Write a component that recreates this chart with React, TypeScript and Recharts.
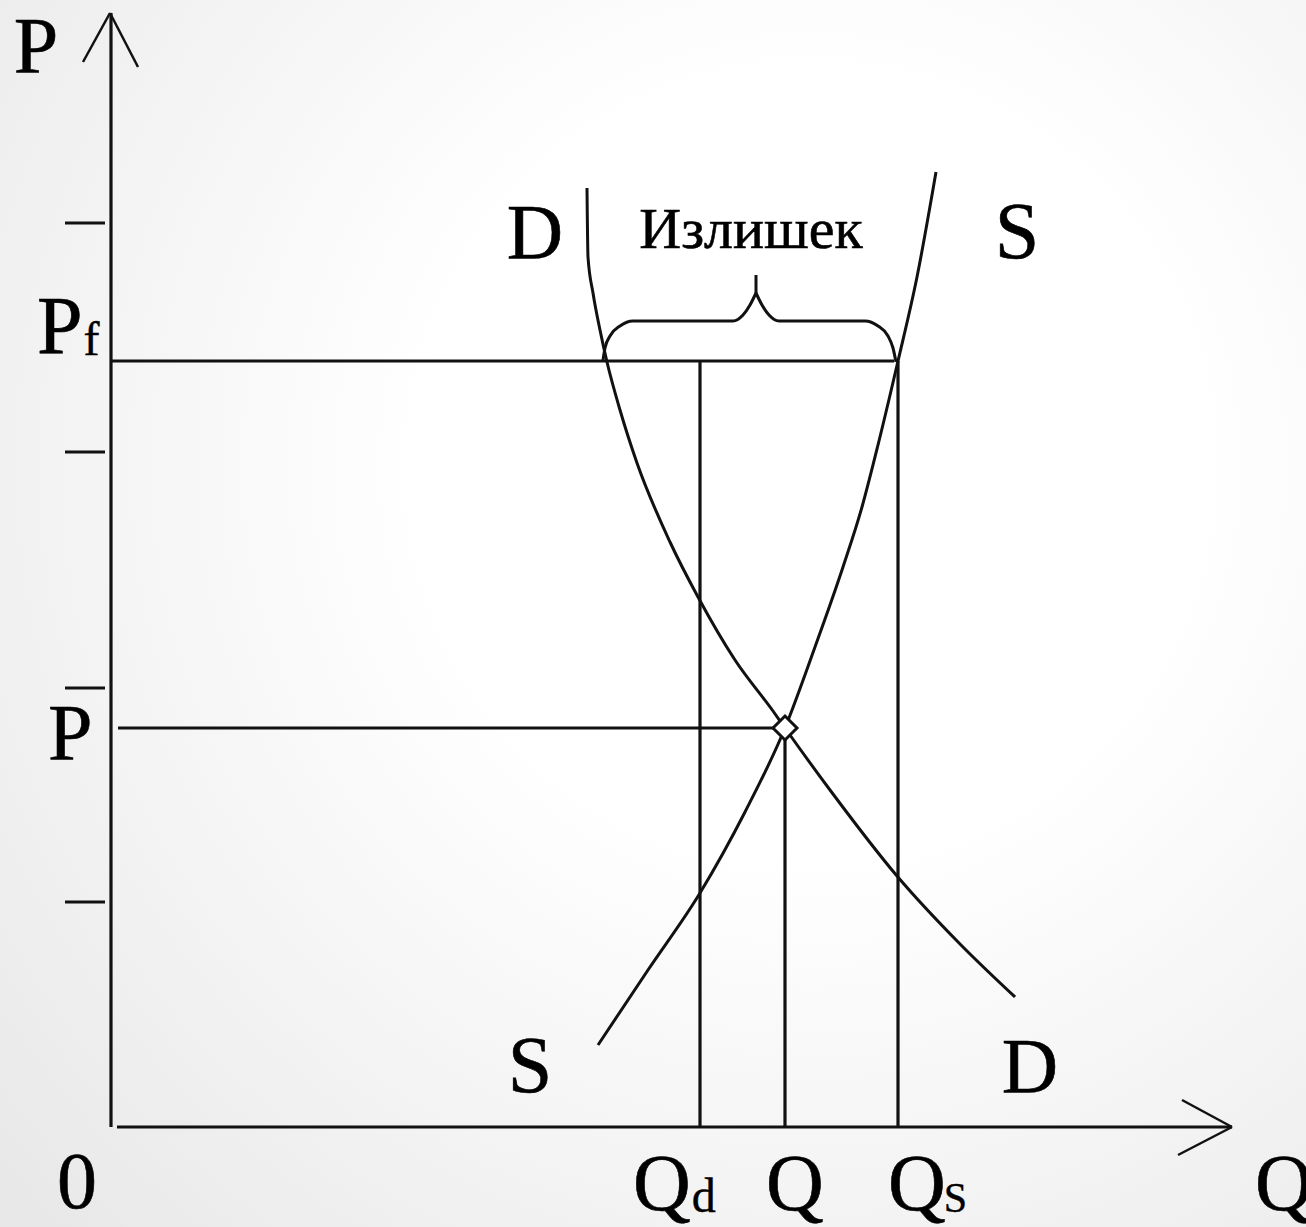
import { ComposedChart, XAxis, YAxis, Line, Scatter, ReferenceLine } from "recharts";

// coordinates: q = quantity, p = price, both measured from the origin of the diagram
const demandCurve = [
  { q: 475, p: 939 }, { q: 476, p: 870 }, { q: 481, p: 834 }, { q: 488, p: 797 },
  { q: 495, p: 765 }, { q: 508, p: 717 }, { q: 525, p: 664 }, { q: 558, p: 585 },
  { q: 586, p: 530 }, { q: 623, p: 467 }, { q: 661, p: 416 }, { q: 673, p: 399 },
  { q: 718, p: 337 }, { q: 785, p: 251 }, { q: 848, p: 183 }, { q: 903, p: 130 },
];

const supplyCurve = [
  { q: 486, p: 82 }, { q: 536, p: 157 }, { q: 588, p: 234 }, { q: 633, p: 315 },
  { q: 673, p: 399 }, { q: 703, p: 480 }, { q: 731, p: 560 }, { q: 750, p: 620 },
  { q: 766, p: 682 }, { q: 786, p: 766 }, { q: 805, p: 850 }, { q: 824, p: 955 },
];

const braceLeft = [
  { q: 491, p: 767 }, { q: 493, p: 779 }, { q: 498, p: 791 }, { q: 508, p: 801 },
  { q: 521, p: 806 }, { q: 621, p: 806 }, { q: 631, p: 812 }, { q: 638, p: 822 },
  { q: 644, p: 834 },
];
const braceRight = [
  { q: 644, p: 834 }, { q: 650, p: 822 }, { q: 657, p: 812 }, { q: 667, p: 806 },
  { q: 753, p: 806 }, { q: 766, p: 801 }, { q: 776, p: 791 }, { q: 781, p: 779 },
  { q: 784, p: 765 },
];
const braceStem = [{ q: 644, p: 834 }, { q: 644, p: 852 }];

const priceFloor = 766;
const priceEq = 399;
const qDemanded = 588;
const qEq = 673;
const qSupplied = 786;
const priceTicks = [904, 675, 439, 225];
const equilibrium = [{ q: qEq, p: priceEq }];

const labels = [
  { q: -76, p: 1054, text: "P", anchor: "middle", size: 80 },
  { q: -75, p: 774, text: "P", sub: "f", anchor: "start", size: 82 },
  { q: -64, p: 367, text: "P", anchor: "start", size: 80 },
  { q: 423, p: 869, text: "D", anchor: "middle", size: 78 },
  { q: 639, p: 879, text: "Излишек", anchor: "middle", size: 58 },
  { q: 905, p: 869, text: "S", anchor: "middle", size: 80 },
  { q: 418, p: 35, text: "S", anchor: "middle", size: 80 },
  { q: 918, p: 35, text: "D", anchor: "middle", size: 78 },
  { q: -35, p: -81, text: "0", anchor: "middle", size: 80 },
  { q: 521, p: -83, text: "Q", sub: "d", anchor: "start", size: 80 },
  { q: 683, p: -83, text: "Q", anchor: "middle", size: 80 },
  { q: 776, p: -83, text: "Q", sub: "S", anchor: "start", size: 80 },
  { q: 1143, p: -83, text: "Q", anchor: "start", size: 80 },
];

const INK = "#111";
const FONT = "'Liberation Serif', 'Times New Roman', serif";

const seg = (q1: number, p1: number, q2: number, p2: number, w = 3.2, key?: string) => (
  <ReferenceLine
    key={key}
    segment={[{ x: q1, y: p1 }, { x: q2, y: p2 }]}
    stroke={INK}
    strokeWidth={w}
    ifOverflow="visible"
  />
);

const renderLabel = (props: any) => {
  const { cx, cy, payload } = props;
  return (
    <text
      x={cx}
      y={cy}
      textAnchor={payload.anchor}
      fontFamily={FONT}
      fontSize={payload.size}
      fill="#000"
      stroke="#000"
      strokeWidth={0.6}
    >
      <tspan>{payload.text}</tspan>
      {payload.sub && (
        <tspan fontSize={payload.sub === "S" ? 42 : 48} dy={2} dx={payload.sub === "S" ? -2 : 1} strokeWidth={0.4}>
          {payload.sub}
        </tspan>
      )}
    </text>
  );
};

const renderDiamond = (props: any) => {
  const { cx, cy } = props;
  const r = 12;
  return (
    <polygon
      points={`${cx},${cy - r} ${cx + r},${cy} ${cx},${cy + r} ${cx - r},${cy}`}
      fill="#fff"
      stroke={INK}
      strokeWidth={3}
    />
  );
};

const curveProps = {
  dataKey: "p",
  stroke: INK,
  strokeWidth: 3,
  dot: false,
  isAnimationActive: false,
};

export default function App() {
  return (
    <div
      style={{
        position: "absolute",
        left: 0,
        top: 0,
        width: 1306,
        height: 1227,
        background: "radial-gradient(circle at 62% 38%, #ffffff 0%, #ffffff 35%, #e7e7e7 100%)",
      }}
    >
      <ComposedChart width={1306} height={1227} margin={{ top: 0, right: 0, bottom: 0, left: 0 }}>
        <XAxis type="number" dataKey="q" domain={[-112, 1194]} hide allowDataOverflow />
        <YAxis type="number" dataKey="p" domain={[-100, 1127]} hide allowDataOverflow />

        {/* axes with arrows */}
        {seg(-1, 0, -1, 1114, 3.2, "yaxis")}
        {seg(-2, 1114, -29, 1065, 2.5, "yarrowL")}
        {seg(-2, 1114, 26, 1060, 2.5, "yarrowR")}
        {seg(5, 0, 1120, 0, 3.2, "xaxis")}
        {seg(1120, 0, 1070, 27, 2.5, "xarrowU")}
        {seg(1120, 0, 1066, -28, 2.5, "xarrowD")}

        {/* price ticks */}
        {priceTicks.map((t) => seg(-47, t, -7, t, 3, `tick-${t}`))}

        {/* guide lines */}
        {seg(0, priceFloor, qSupplied - 4, priceFloor, 3.2, "pf")}
        {seg(6, priceEq, qEq - 12, priceEq, 3.2, "peq")}
        {seg(qDemanded, priceFloor, qDemanded, 0, 3.2, "qd")}
        {seg(qEq, priceEq - 12, qEq, 0, 3.2, "qeq")}
        {seg(qSupplied, priceFloor, qSupplied, 0, 3.2, "qs")}

        <Line data={demandCurve} type="monotone" {...curveProps} />
        <Line data={supplyCurve} type="monotone" {...curveProps} />
        <Line data={braceLeft} type="monotone" {...curveProps} />
        <Line data={braceRight} type="monotone" {...curveProps} />
        <Line data={braceStem} type="linear" {...curveProps} />

        <Scatter data={equilibrium} dataKey="p" shape={renderDiamond} isAnimationActive={false} />
        <Scatter data={labels} dataKey="p" shape={renderLabel} isAnimationActive={false} />
      </ComposedChart>
    </div>
  );
}
